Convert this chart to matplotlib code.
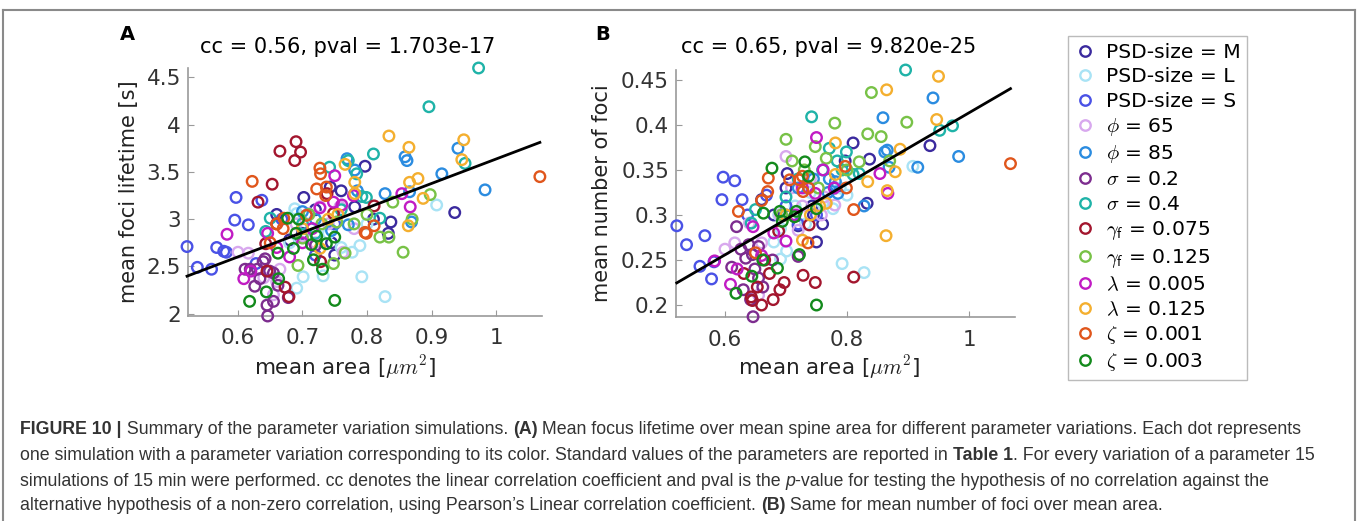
import numpy as np
import matplotlib
matplotlib.use("Agg")
import matplotlib.pyplot as plt
from matplotlib.lines import Line2D
from matplotlib import font_manager

plt.rcParams['font.family'] = ['DejaVu Sans']
plt.rcParams['mathtext.fontset'] = 'cm'

# ---- data (mean area, mean lifetime [s], mean number of foci)
area_psd_m = [0.660, 0.680, 0.700, 0.702, 0.720, 0.743, 0.745, 0.750, 0.760, 0.781, 0.797, 0.810, 0.833, 0.837, 0.936]
life_psd_m = [3.05, 2.78, 2.85, 3.23, 3.10, 3.34, 2.75, 2.62, 3.30, 3.13, 3.56, 3.00, 2.85, 2.97, 3.07]
foci_psd_m = [0.317, 0.300, 0.330, 0.346, 0.288, 0.310, 0.300, 0.270, 0.290, 0.330, 0.360, 0.380, 0.313, 0.362, 0.377]

area_psd_l = [0.680, 0.688, 0.691, 0.691, 0.701, 0.715, 0.732, 0.740, 0.760, 0.777, 0.789, 0.792, 0.800, 0.828, 0.908]
life_psd_l = [2.75, 3.11, 3.06, 2.27, 2.39, 2.90, 2.40, 2.85, 2.70, 2.65, 2.72, 2.39, 2.95, 2.18, 3.15]
foci_psd_l = [0.270, 0.300, 0.285, 0.251, 0.260, 0.310, 0.290, 0.325, 0.313, 0.307, 0.330, 0.246, 0.322, 0.236, 0.354]

area_psd_s = [0.521, 0.537, 0.559, 0.567, 0.578, 0.582, 0.595, 0.597, 0.616, 0.628, 0.637, 0.668, 0.700, 0.720, 0.750]
life_psd_s = [2.71, 2.49, 2.47, 2.70, 2.66, 2.65, 2.99, 3.23, 2.94, 2.53, 3.20, 3.00, 2.90, 2.62, 2.95]
foci_psd_s = [0.288, 0.267, 0.243, 0.277, 0.229, 0.248, 0.317, 0.342, 0.338, 0.317, 0.300, 0.322, 0.310, 0.290, 0.300]

area_phi65 = [0.600, 0.616, 0.640, 0.655, 0.660, 0.665, 0.690, 0.700, 0.709, 0.720, 0.727, 0.740, 0.758, 0.763, 0.780]
life_phi65 = [2.65, 2.64, 2.38, 2.20, 2.34, 2.47, 2.95, 2.82, 3.06, 2.75, 3.13, 2.95, 3.13, 2.65, 2.90]
foci_phi65 = [0.262, 0.269, 0.291, 0.211, 0.269, 0.250, 0.300, 0.365, 0.330, 0.283, 0.310, 0.340, 0.300, 0.320, 0.311]

area_phi85 = [0.700, 0.720, 0.745, 0.769, 0.771, 0.781, 0.785, 0.828, 0.859, 0.862, 0.866, 0.869, 0.916, 0.941, 0.983]
life_phi85 = [3.08, 3.00, 2.88, 3.64, 2.94, 3.52, 3.30, 3.27, 3.66, 3.62, 3.29, 2.97, 3.48, 3.75, 3.31]
foci_phi85 = [0.300, 0.330, 0.340, 0.325, 0.340, 0.337, 0.324, 0.310, 0.408, 0.370, 0.372, 0.353, 0.353, 0.430, 0.365]

area_sig02 = [0.611, 0.619, 0.626, 0.630, 0.634, 0.639, 0.642, 0.645, 0.646, 0.649, 0.655, 0.655, 0.662, 0.678, 0.720]
life_sig02 = [2.47, 2.47, 2.29, 2.47, 2.37, 2.55, 2.58, 2.09, 1.975, 2.45, 2.43, 2.13, 2.30, 2.17, 2.72]
foci_sig02 = [0.242, 0.287, 0.262, 0.217, 0.252, 0.267, 0.206, 0.256, 0.187, 0.240, 0.265, 0.230, 0.220, 0.250, 0.254]

area_sig04 = [0.643, 0.650, 0.700, 0.720, 0.742, 0.760, 0.771, 0.784, 0.792, 0.799, 0.810, 0.820, 0.896, 0.952, 0.973]
life_sig04 = [2.87, 3.01, 2.95, 2.85, 3.55, 3.10, 3.62, 3.48, 3.24, 3.23, 3.69, 3.01, 4.19, 3.59, 4.60]
foci_sig04 = [0.291, 0.306, 0.320, 0.340, 0.409, 0.350, 0.374, 0.360, 0.350, 0.370, 0.345, 0.346, 0.461, 0.394, 0.399]

area_gam075 = [0.631, 0.643, 0.645, 0.653, 0.660, 0.665, 0.673, 0.679, 0.688, 0.690, 0.697, 0.728, 0.738, 0.748, 0.811]
life_gam075 = [3.18, 2.74, 2.45, 3.37, 2.95, 3.72, 2.28, 2.18, 3.62, 3.82, 3.71, 2.55, 3.27, 3.06, 3.14]
foci_gam075 = [0.235, 0.209, 0.205, 0.220, 0.200, 0.250, 0.235, 0.206, 0.282, 0.217, 0.225, 0.233, 0.289, 0.225, 0.231]

area_gam125 = [0.693, 0.700, 0.710, 0.730, 0.748, 0.753, 0.766, 0.780, 0.800, 0.820, 0.834, 0.840, 0.856, 0.870, 0.898]
life_gam125 = [2.51, 2.80, 3.05, 2.95, 2.53, 2.97, 2.64, 2.95, 3.05, 2.81, 2.81, 3.18, 2.65, 3.00, 3.26]
foci_gam125 = [0.300, 0.384, 0.360, 0.350, 0.376, 0.330, 0.363, 0.402, 0.350, 0.359, 0.390, 0.436, 0.387, 0.360, 0.403]

area_lam005 = [0.583, 0.609, 0.620, 0.646, 0.660, 0.680, 0.700, 0.715, 0.727, 0.748, 0.750, 0.761, 0.779, 0.854, 0.867]
life_lam005 = [2.84, 2.37, 2.45, 2.85, 2.70, 2.60, 2.75, 2.90, 3.12, 3.18, 3.46, 3.15, 3.25, 3.27, 3.13]
foci_lam005 = [0.249, 0.223, 0.240, 0.287, 0.255, 0.280, 0.271, 0.300, 0.330, 0.324, 0.386, 0.350, 0.330, 0.346, 0.324]

area_lam125 = [0.700, 0.727, 0.740, 0.755, 0.766, 0.781, 0.781, 0.834, 0.864, 0.865, 0.866, 0.879, 0.887, 0.947, 0.950]
life_lam125 = [2.90, 2.69, 3.00, 3.05, 3.58, 3.39, 3.27, 3.88, 2.93, 3.76, 3.39, 3.43, 3.22, 3.63, 3.84]
foci_lam125 = [0.300, 0.272, 0.300, 0.310, 0.313, 0.380, 0.345, 0.337, 0.277, 0.439, 0.327, 0.348, 0.373, 0.406, 0.454]

area_zet001 = [0.622, 0.650, 0.660, 0.670, 0.671, 0.706, 0.722, 0.727, 0.728, 0.736, 0.737, 0.797, 0.799, 0.811, 1.068]
life_zet001 = [3.40, 2.75, 2.95, 2.90, 3.01, 3.04, 3.32, 3.54, 3.48, 3.25, 3.34, 2.86, 2.85, 2.93, 3.45]
foci_zet001 = [0.304, 0.258, 0.316, 0.326, 0.341, 0.339, 0.339, 0.343, 0.326, 0.269, 0.330, 0.354, 0.330, 0.306, 0.357]

area_zet003 = [0.618, 0.644, 0.662, 0.663, 0.677, 0.686, 0.690, 0.694, 0.714, 0.717, 0.722, 0.731, 0.737, 0.750, 0.750]
life_zet003 = [2.13, 2.23, 2.64, 2.37, 3.01, 2.69, 2.85, 3.00, 2.73, 2.57, 2.82, 2.47, 2.74, 2.81, 2.14]
foci_zet003 = [0.213, 0.232, 0.250, 0.302, 0.352, 0.241, 0.304, 0.293, 0.298, 0.304, 0.256, 0.359, 0.343, 0.307, 0.200]

labels = ["PSD-size = M", "PSD-size = L", "PSD-size = S", r"$\phi$ = 65", r"$\phi$ = 85",
          r"$\sigma$ = 0.2", r"$\sigma$ = 0.4", r"$\gamma_\mathsf{f}$ = 0.075", r"$\gamma_\mathsf{f}$ = 0.125",
          r"$\lambda$ = 0.005", r"$\lambda$ = 0.125", r"$\zeta$ = 0.001", r"$\zeta$ = 0.003"]
colors = ["#3b2a9e", "#a9e3f5", "#4a52e6", "#d8a8ee", "#2b8ce0", "#7d2d8f", "#1fb3a8",
          "#a3162e", "#78c247", "#c11bc4", "#f4af2f", "#e0561c", "#138a1c"]

areas = [area_psd_m, area_psd_l, area_psd_s, area_phi65, area_phi85, area_sig02, area_sig04,
         area_gam075, area_gam125, area_lam005, area_lam125, area_zet001, area_zet003]
lifetimes = [life_psd_m, life_psd_l, life_psd_s, life_phi65, life_phi85, life_sig02, life_sig04,
             life_gam075, life_gam125, life_lam005, life_lam125, life_zet001, life_zet003]
focis = [foci_psd_m, foci_psd_l, foci_psd_s, foci_phi65, foci_phi85, foci_sig02, foci_sig04,
         foci_gam075, foci_gam125, foci_lam005, foci_lam125, foci_zet001, foci_zet003]

title_a = "cc = 0.56, pval = 1.703e-17"
title_b = "cc = 0.65, pval = 9.820e-25"

W, H = 1358, 521
fig = plt.figure(figsize=(W / 100, H / 100), dpi=100)


def fx(px):
    return px / W


def fy(py):
    return 1 - py / H


def panel(rect_px, xlim, ylim, xticks, xticklabels, yticks, yticklabels, ydata):
    l, t, r, b = rect_px
    ax = fig.add_axes([fx(l), fy(b), (r - l) / W, (b - t) / H])
    for xs, ys, c in zip(areas, ydata, colors):
        ax.scatter(xs, ys, s=58, facecolors='none', edgecolors=c, linewidths=1.7, clip_on=False, zorder=3)
    allx = np.concatenate([np.asarray(a) for a in areas])
    ally = np.concatenate([np.asarray(a) for a in ydata])
    fit = np.polyfit(allx, ally, 1)
    xl = np.array([allx.min(), allx.max()])
    ax.plot(xl, np.polyval(fit, xl), color='black', lw=2, zorder=4, clip_on=False)
    ax.set_xlim(*xlim)
    ax.set_ylim(*ylim)
    ax.set_xticks(xticks)
    ax.set_xticklabels(xticklabels)
    ax.set_yticks(yticks)
    ax.set_yticklabels(yticklabels)
    for s in ['top', 'right']:
        ax.spines[s].set_visible(False)
    for s in ['left', 'bottom']:
        ax.spines[s].set_color('#9a9a9a')
        ax.spines[s].set_linewidth(1.2)
    ax.tick_params(direction='in', length=4, color='#9a9a9a', labelcolor='#333333', labelsize=15.5)
    ax.tick_params(axis='x', pad=9)
    ax.tick_params(axis='y', pad=5)
    ax.patch.set_alpha(0)
    return ax


ax_a = panel((188, 68, 542, 316), (0.5225, 1.0713), (1.975, 4.6),
             [0.6, 0.7, 0.8, 0.9, 1.0], ['0.6', '0.7', '0.8', '0.9', '1'],
             [2, 2.5, 3, 3.5, 4, 4.5], ['2', '2.5', '3', '3.5', '4', '4.5'], lifetimes)
ax_b = panel((676, 70, 1015, 317), (0.5197, 1.0754), (0.1867, 0.461),
             [0.6, 0.8, 1.0], ['0.6', '0.8', '1'],
             [0.2, 0.25, 0.3, 0.35, 0.4, 0.45], ['0.2', '0.25', '0.3', '0.35', '0.4', '0.45'], focis)

# titles, axis labels, panel letters
fig.text(fx(348), fy(47), title_a, ha='center', va='center', fontsize=15, color='black')
fig.text(fx(829), fy(47), title_b, ha='center', va='center', fontsize=15, color='black')
fig.text(fx(345), fy(367), r"mean area [$\mu m^2$]", ha='center', va='center', fontsize=15.5, color='#222222')
fig.text(fx(829), fy(367), r"mean area [$\mu m^2$]", ha='center', va='center', fontsize=15.5, color='#222222')
fig.text(fx(129), fy(192), "mean foci lifetime [s]", ha='center', va='center', rotation=90, fontsize=15, color='#222222')
fig.text(fx(602), fy(193), "mean number of foci", ha='center', va='center', rotation=90, fontsize=15, color='#222222')
fig.text(fx(127), fy(35), "A", ha='center', va='center', fontsize=14, fontweight='bold')
fig.text(fx(603), fy(35), "B", ha='center', va='center', fontsize=14, fontweight='bold')

# legend
handles = [Line2D([], [], marker='o', linestyle='none', markerfacecolor='none', markeredgecolor=c,
                  markersize=7.5, markeredgewidth=1.7) for c in colors]
fig.legend(handles, labels, loc='upper left', bbox_to_anchor=(fx(1068), fy(36)),
           bbox_transform=fig.transFigure, fontsize=14.6, frameon=True, fancybox=False,
           edgecolor='#aaaaaa', borderaxespad=0, borderpad=0.35, handlelength=1.0,
           handletextpad=0.5, labelspacing=0.26)

# outer frame
frame_c = '#8a8a8a'
fig.add_artist(Line2D([fx(3), fx(1355)], [fy(10), fy(10)], transform=fig.transFigure, color=frame_c, lw=1.5))
fig.add_artist(Line2D([fx(3), fx(3)], [fy(10), fy(521)], transform=fig.transFigure, color=frame_c, lw=1.5))
fig.add_artist(Line2D([fx(1355), fx(1355)], [fy(10), fy(521)], transform=fig.transFigure, color=frame_c, lw=1.5))

# caption
names = {f.name for f in font_manager.fontManager.ttflist}
cap_font = 'Liberation Sans Narrow' if 'Liberation Sans Narrow' in names else 'Liberation Sans'
renderer = fig.canvas.get_renderer()

cap_lines = [
    [("FIGURE 10 |", 'bold', 'normal'), (" Summary of the parameter variation simulations. ", 'normal', 'normal'),
     ("(A)", 'bold', 'normal'),
     (" Mean focus lifetime over mean spine area for different parameter variations. Each dot represents", 'normal', 'normal')],
    [("one simulation with a parameter variation corresponding to its color. Standard values of the parameters are reported in ", 'normal', 'normal'),
     ("Table 1", 'bold', 'normal'), (". For every variation of a parameter 15", 'normal', 'normal')],
    [("simulations of 15 min were performed. cc denotes the linear correlation coefficient and pval is the ", 'normal', 'normal'),
     ("p", 'normal', 'italic'), ("-value for testing the hypothesis of no correlation against the", 'normal', 'normal')],
    [("alternative hypothesis of a non-zero correlation, using Pearson\u2019s Linear correlation coefficient. ", 'normal', 'normal'),
     ("(B)", 'bold', 'normal'), (" Same for mean number of foci over mean area.", 'normal', 'normal')],
]
cap_y = [430, 455, 481, 506]


def seg_width(txt, size, weight, style):
    t1 = fig.text(0, 0, "|" + txt + "|", fontsize=size, fontweight=weight, fontstyle=style, family=cap_font)
    t2 = fig.text(0, 0, "||", fontsize=size, fontweight=weight, fontstyle=style, family=cap_font)
    w = t1.get_window_extent(renderer).width - t2.get_window_extent(renderer).width
    t1.remove()
    t2.remove()
    return w


# pick the size so the first line spans the same width as in the picture
w10 = sum(seg_width(s, 10, wt, st) for s, wt, st in cap_lines[0])
cap_size = 10 * (1310 - 20) / w10

for runs, py in zip(cap_lines, cap_y):
    x = 20
    for txt, wt, st in runs:
        fig.text(fx(x), fy(py), txt, fontsize=cap_size, fontweight=wt, fontstyle=st,
                 family=cap_font, color='#333333', ha='left', va='center')
        x += seg_width(txt, cap_size, wt, st)

fig.savefig("out.png", dpi=100)
